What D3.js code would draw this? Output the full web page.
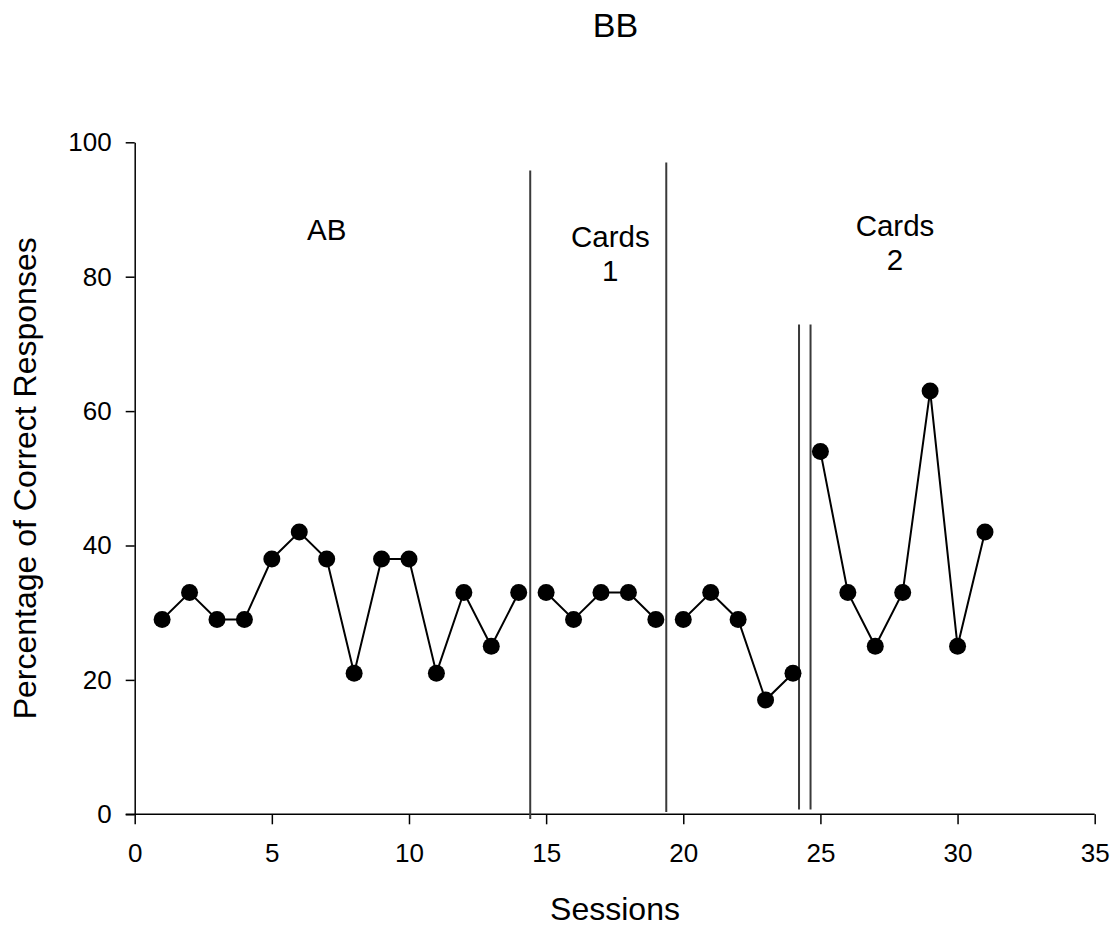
<!DOCTYPE html>
<html>
<head>
<meta charset="utf-8">
<script src="https://cdn.jsdelivr.net/npm/d3@7"></script>
<style>
  html, body { margin: 0; padding: 0; background: #fff; }
  svg text { font-family: "Liberation Sans", Arial, sans-serif; fill: #000; }
</style>
</head>
<body>
<svg id="chart" width="1120" height="931"></svg>
<script>
// ---- data ----
const sessions = [1,2,3,4,5,6,7,8,9,10,11,12,13,14,15,16,17,18,19,20,21,22,23,24,25,26,27,28,29,30,31];
const percentCorrect = [29,33,29,29,38,42,38,21,38,38,21,33,25,33, 33,29,33,33,29, 29,33,29,17,21, 54,33,25,33,63,25,42];
const phaseIndex = [0,0,0,0,0,0,0,0,0,0,0,0,0,0, 1,1,1,1,1, 2,2,2,2,2, 3,3,3,3,3,3,3];

const phaseLineX = [14.42, 19.38, 24.22, 24.64];
const phaseLineTop = [95.8, 97.0, 72.9, 72.9];
const phaseLineBottom = [-0.7, 0.35, 0.7, 0.7];

const phaseLabels = [["AB"], ["Cards", "1"], ["Cards", "2"]];
const phaseLabelX = [7.0, 17.34, 27.72];
const phaseLabelY = [85.4, 84.4, 86.0];

const xTicks = [0,5,10,15,20,25,30,35];
const yTicks = [0,20,40,60,80,100];

const titleText = "BB";
const xTitle = "Sessions";
const yTitle = "Percentage of Correct Responses";

// ---- drawing ----
const svg = d3.select("#chart");
const x = d3.scaleLinear().domain([0, 35]).range([134.7, 1094.7]);
const y = d3.scaleLinear().domain([0, 100]).range([814.3, 142.3]);

// title
svg.append("text").attr("x", 615.5).attr("y", 36.5)
  .attr("text-anchor", "middle").style("font-size", "34px").text(titleText);

// x axis
const gx = svg.append("g").attr("transform", `translate(0,${y(0)})`)
  .call(d3.axisBottom(x).tickValues(xTicks).tickSize(10).tickSizeOuter(0).tickFormat(d3.format("d")));
gx.selectAll("text").attr("y", 48).attr("dy", null).style("font-size", "26px");

// y axis
const gy = svg.append("g").attr("transform", `translate(${x(0)},0)`)
  .call(d3.axisLeft(y).tickValues(yTicks).tickSize(9).tickSizeOuter(0).tickPadding(14).tickFormat(d3.format("d")));
gy.selectAll("text").style("font-size", "26px");

[gx, gy].forEach(g => {
  g.select(".domain").attr("stroke", "#000").attr("stroke-width", 1.5);
  g.selectAll(".tick line").attr("stroke", "#000").attr("stroke-width", 1.5);
  g.selectAll("text").attr("fill", "#000");
});
// extend x domain to meet y axis line
gx.select(".domain").attr("d", `M${x(0) - 9},0H${x(35)}`);

// axis titles
svg.append("text").attr("x", 615).attr("y", 920)
  .attr("text-anchor", "middle").style("font-size", "32px").text(xTitle);
svg.append("text")
  .attr("transform", `translate(36,${(y(0) + y(100)) / 2}) rotate(-90)`)
  .attr("text-anchor", "middle").style("font-size", "32px").text(yTitle);

// phase change lines
svg.append("g").selectAll("line").data(phaseLineX).join("line")
  .attr("x1", d => x(d)).attr("x2", d => x(d))
  .attr("y1", (d, i) => y(phaseLineBottom[i]))
  .attr("y2", (d, i) => y(phaseLineTop[i]))
  .attr("stroke", "#3a3a3a").attr("stroke-width", 2);

// phase labels
const lab = svg.append("g").selectAll("text").data(phaseLabels).join("text")
  .attr("x", (d, i) => x(phaseLabelX[i]))
  .attr("y", (d, i) => y(phaseLabelY[i]))
  .attr("text-anchor", "middle").style("font-size", "29.5px");
lab.selectAll("tspan").data((d, i) => d.map(t => ({ t, i }))).join("tspan")
  .attr("x", d => x(phaseLabelX[d.i]))
  .attr("dy", (d, j) => j === 0 ? 0 : 33.5)
  .text(d => d.t);

// data lines per phase
const points = sessions.map((s, i) => ({ s, v: percentCorrect[i], p: phaseIndex[i] }));
const groups = d3.groups(points, d => d.p);
const line = d3.line().x(d => x(d.s)).y(d => y(d.v));
svg.append("g").selectAll("path").data(groups).join("path")
  .attr("d", d => line(d[1]))
  .attr("fill", "none").attr("stroke", "#000").attr("stroke-width", 2);

// markers
svg.append("g").selectAll("circle").data(points).join("circle")
  .attr("cx", d => x(d.s)).attr("cy", d => y(d.v)).attr("r", 8.5)
  .attr("fill", "#000");
</script>
</body>
</html>
